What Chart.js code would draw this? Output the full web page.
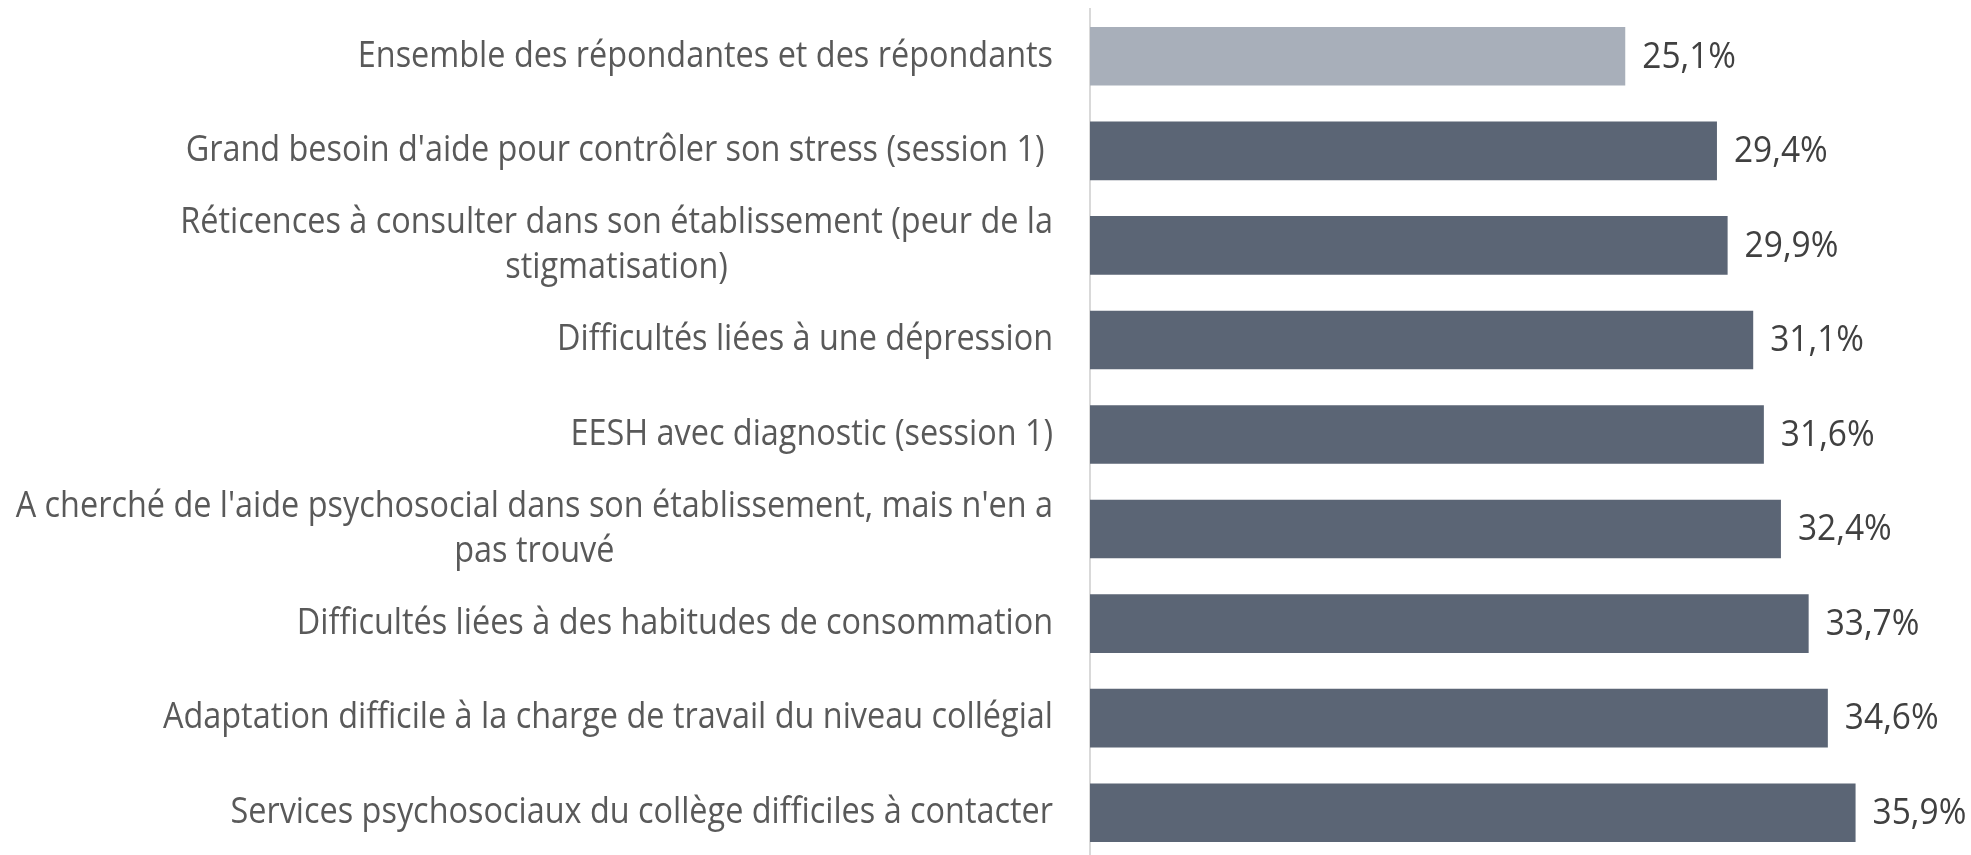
<!DOCTYPE html>
<html>
<head>
<meta charset="utf-8">
<script src="https://cdn.jsdelivr.net/npm/chart.js@4/dist/chart.umd.min.js"></script>
<style>
  html, body { margin: 0; padding: 0; background: #fff; overflow: hidden; }
  #wrap { width: 1971px; height: 860px; position: relative; }
</style>
</head>
<body>
<div id="wrap"><canvas id="stressChart"></canvas></div>
<script>
// Categories (wrapped lines as in the original)
const categories = [
    ['Ensemble des répondantes et des répondants'],
    ['Grand besoin d\'aide pour contrôler son stress (session 1) '],
    ['Réticences à consulter dans son établissement (peur de la', 'stigmatisation)'],
    ['Difficultés liées à une dépression'],
    ['EESH avec diagnostic (session 1)'],
    ['A cherché de l\'aide psychosocial dans son établissement, mais n\'en a', 'pas trouvé'],
    ['Difficultés liées à des habitudes de consommation'],
    ['Adaptation difficile à la charge de travail du niveau collégial'],
    ['Services psychosociaux du collège difficiles à contacter']
];

// Percent values
const values = [25.1, 29.4, 29.9, 31.1, 31.6, 32.4, 33.7, 34.6, 35.9];

// First bar is the reference group (lighter)
const barColors = ['#A8AFBA', '#5B6575', '#5B6575', '#5B6575', '#5B6575', '#5B6575', '#5B6575', '#5B6575', '#5B6575'];

const FONT = '36px "Open Sans"';
const LABEL_SQUEEZE = 0.9;   // narrow the font a bit, the original uses Calibri
const VALUE_SQUEEZE = 0.93;
const LINE_H = 45;

function drawNarrow(ctx, text, x, y, align, sq) {
    const w = ctx.measureText(text).width * sq;
    let startX = x;
    if (align === 'center') startX = x - w / 2;
    if (align === 'right') startX = x - w;
    ctx.save();
    ctx.translate(startX, y);
    ctx.scale(sq, 1);
    ctx.textAlign = 'left';
    ctx.fillText(text, 0, 0);
    ctx.restore();
}

// Category labels: right aligned block, lines centered inside the block
const categoryLabels = {
    id: 'categoryLabels',
    afterDraw(chart) {
        const ctx = chart.ctx;
        const yScale = chart.scales.y;
        const right = chart.chartArea.left - 37;
        ctx.save();
        ctx.font = FONT;
        ctx.textAlign = 'left';
        ctx.fillStyle = '#595959';
        ctx.textBaseline = 'middle';
        chart.data.labels.forEach((lines, i) => {
            const y = yScale.getPixelForTick(i);
            const widths = lines.map(l => ctx.measureText(l).width * LABEL_SQUEEZE);
            const maxW = Math.max(...widths);
            const cx = right - maxW / 2;
            lines.forEach((line, j) => {
                const ly = y + (j - (lines.length - 1) / 2) * LINE_H;
                drawNarrow(ctx, line, cx, ly, 'center', LABEL_SQUEEZE);
            });
        });
        ctx.restore();
    }
};

// Value labels at the end of each bar
const valueLabels = {
    id: 'valueLabels',
    afterDatasetsDraw(chart) {
        const ctx = chart.ctx;
        const meta = chart.getDatasetMeta(0);
        ctx.save();
        ctx.font = FONT;
        ctx.fillStyle = '#404040';
        ctx.textBaseline = 'middle';
        meta.data.forEach((bar, i) => {
            const txt = values[i].toFixed(1).replace('.', ',') + '%';
            drawNarrow(ctx, txt, bar.x + 17, bar.y + 1, 'left', VALUE_SQUEEZE);
        });
        ctx.restore();
    }
};

const ctx = document.getElementById('stressChart').getContext('2d');
const stressChart = new Chart(ctx, {
    type: 'bar',
    data: {
        labels: categories,
        datasets: [{
            data: values,
            backgroundColor: barColors,
            borderWidth: 0,
            barPercentage: 0.62,
            categoryPercentage: 1.0
        }]
    },
    options: {
        indexAxis: 'y',
        responsive: true,
        maintainAspectRatio: false,
        animation: false,
        layout: {
            padding: { top: 9, right: 28, bottom: 0, left: 0 }
        },
        scales: {
            x: {
                min: 0,
                max: 40,
                display: false
            },
            y: {
                grid: { display: false },
                border: { display: true, color: '#D9D9D9', width: 2 },
                ticks: { display: false },
                afterFit(scale) {
                    scale.width = 1090;
                }
            }
        },
        plugins: {
            legend: { display: false },
            tooltip: { enabled: false }
        }
    },
    plugins: [categoryLabels, valueLabels]
});
</script>
</body>
</html>
